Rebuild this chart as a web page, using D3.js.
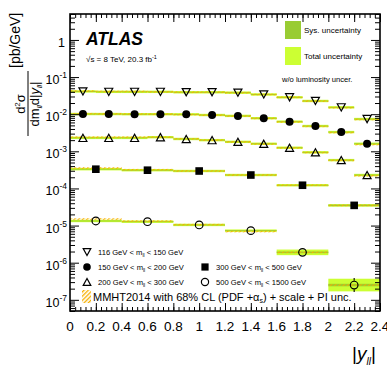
<!DOCTYPE html>
<html>
<head>
<meta charset="utf-8">
<script src="https://cdn.jsdelivr.net/npm/d3@7"></script>
<style>
  body { margin: 0; background: #fff; }
  svg { display: block; font-family: "Liberation Sans", Arial, sans-serif; }
</style>
</head>
<body>
<div id="chart"></div>
<script>
// bin edges in |y_ll|
const edgesFine = [0, 0.2, 0.4, 0.6, 0.8, 1.0, 1.2, 1.4, 1.6, 1.8, 2.0, 2.2, 2.4];
const edgesCoarse = [0, 0.4, 0.8, 1.2, 1.6, 2.0, 2.4];

const val116 = [0.041, 0.040, 0.040, 0.040, 0.039, 0.039, 0.038, 0.034, 0.0285, 0.0227, 0.0153, 0.0074];
const val150 = [0.0101, 0.0101, 0.0100, 0.0100, 0.0099, 0.0095, 0.0090, 0.0078, 0.0063, 0.0048, 0.0033, 0.0016];
const val200 = [0.0023, 0.0023, 0.0023, 0.0024, 0.00215, 0.0020, 0.0018, 0.0016, 0.00125, 0.00094, 0.00058, 0.00023];
const val300 = [3.3e-4, 3.1e-4, 2.95e-4, 2.3e-4, 1.22e-4, 3.5e-5];
const val500 = [1.33e-5, 1.27e-5, 1.04e-5, 7.3e-6, 1.9e-6, 2.5e-7];

// MMHT2014 prediction (central values)
const th116 = [0.042, 0.041, 0.041, 0.040, 0.039, 0.039, 0.038, 0.034, 0.0285, 0.0225, 0.0150, 0.0072];
const th150 = [0.0103, 0.0102, 0.0101, 0.0100, 0.0098, 0.0094, 0.0089, 0.0077, 0.0062, 0.0047, 0.0032, 0.00152];
const th200 = [0.0024, 0.0024, 0.0024, 0.0024, 0.00217, 0.0020, 0.0018, 0.00158, 0.00124, 0.00093, 0.00057, 0.00022];
const th300 = [3.55e-4, 3.2e-4, 2.95e-4, 2.3e-4, 1.22e-4, 3.5e-5];
const th500 = [1.5e-5, 1.32e-5, 1.06e-5, 6.9e-6, 1.9e-6, 2.5e-7];

// relative uncertainties
const tot116 = [0.01, 0.01, 0.01, 0.01, 0.01, 0.01, 0.01, 0.01, 0.012, 0.012, 0.015, 0.02];
const tot150 = [0.01, 0.01, 0.01, 0.01, 0.01, 0.01, 0.01, 0.012, 0.012, 0.015, 0.02, 0.03];
const tot200 = [0.012, 0.012, 0.012, 0.012, 0.012, 0.012, 0.015, 0.015, 0.02, 0.02, 0.03, 0.05];
const tot300 = [0.02, 0.02, 0.02, 0.03, 0.04, 0.08];
const tot500 = [0.04, 0.04, 0.05, 0.07, 0.19, 0.48];
const sys500 = [0.02, 0.02, 0.02, 0.03, 0.05, 0.08];
const stat500 = [0.03, 0.03, 0.04, 0.06, 0.17, 0.55];
const thRel = [0.035, 0.035, 0.035, 0.04, 0.04, 0.04];

const massLabels = ["116 GeV < m", "150 GeV < m", "200 GeV < m", "300 GeV < m", "500 GeV < m"];
const massUpper = [" < 150 GeV", " < 200 GeV", " < 300 GeV", " < 500 GeV", " < 1500 GeV"];

const series = [
    { id: "m116", edges: edgesFine, val: val116, th: th116, tot: tot116, marker: "triDown" },
    { id: "m150", edges: edgesFine, val: val150, th: th150, tot: tot150, marker: "dot" },
    { id: "m200", edges: edgesFine, val: val200, th: th200, tot: tot200, marker: "triUp" },
    { id: "m300", edges: edgesCoarse, val: val300, th: th300, tot: tot300, marker: "square" },
    { id: "m500", edges: edgesCoarse, val: val500, th: th500, tot: tot500, sys: sys500, stat: stat500, marker: "circle" }
];

const sysColor = "#99cc33";
const totColor = "#ccff33";

// frame
const frame = { left: 70, right: 380, top: 14, bottom: 311 };
const width = 387, height = 369;

const xScale = d3.scaleLinear().domain([0, 2.4]).range([frame.left, frame.right]);
const yScale = d3.scaleLog().domain([5e-8, 5]).range([frame.bottom, frame.top]);

const svg = d3.select("#chart").append("svg")
    .attr("width", width).attr("height", height);

// hatch pattern for the theory band
const defs = svg.append("defs");
const pat = defs.append("pattern").attr("id", "hatch")
    .attr("patternUnits", "userSpaceOnUse")
    .attr("width", 3).attr("height", 3)
    .attr("patternTransform", "rotate(45)");
pat.append("rect").attr("width", 1.3).attr("height", 3).attr("fill", "#f7b000");

defs.append("clipPath").attr("id", "plotClip").append("rect")
    .attr("x", frame.left).attr("y", frame.top)
    .attr("width", frame.right - frame.left).attr("height", frame.bottom - frame.top);

const gData = svg.append("g").attr("clip-path", "url(#plotClip)");

function band(v, rel, minH) {
    let y1 = yScale(v * (1 + rel)), y2 = yScale(v / (1 + rel));
    if (y2 - y1 < minH) {
        const c = yScale(v);
        y1 = c - minH / 2; y2 = c + minH / 2;
    }
    return [y1, y2];
}

// uncertainty bands
series.forEach(s => {
    s.val.forEach((v, i) => {
        const x0 = xScale(s.edges[i]), x1 = xScale(s.edges[i + 1]);
        const t = band(v, s.tot[i], 2.4);
        gData.append("rect").attr("x", x0).attr("width", x1 - x0)
            .attr("y", t[0]).attr("height", t[1] - t[0]).attr("fill", totColor);
        const sr = s.sys ? s.sys[i] : s.tot[i] * 0.6;
        const b = band(v, sr, 0.9);
        gData.append("rect").attr("x", x0).attr("width", x1 - x0)
            .attr("y", b[0]).attr("height", b[1] - b[0]).attr("fill", sysColor);
    });
});

// theory hatch
series.forEach(s => {
    s.th.forEach((v, i) => {
        const x0 = xScale(s.edges[i]), x1 = xScale(s.edges[i + 1]);
        const rel = s.edges === edgesCoarse ? thRel[i] : 0.02;
        const h = band(v, rel, 1.6);
        gData.append("rect").attr("x", x0).attr("width", x1 - x0)
            .attr("y", h[0]).attr("height", h[1] - h[0])
            .attr("fill", "url(#hatch)");
    });
});

// markers
function drawMarker(g, type, x, y, scale) {
    const k = scale || 1;
    if (type === "dot") {
        g.append("circle").attr("cx", x).attr("cy", y).attr("r", 4 * k).attr("fill", "#000");
    } else if (type === "circle") {
        g.append("circle").attr("cx", x).attr("cy", y).attr("r", 3.8 * k)
            .attr("fill", "none").attr("stroke", "#000").attr("stroke-width", 1.2);
    } else if (type === "square") {
        g.append("rect").attr("x", x - 3.8 * k).attr("y", y - 3.8 * k)
            .attr("width", 7.6 * k).attr("height", 7.6 * k).attr("fill", "#000");
    } else {
        const up = type === "triUp" ? 1 : -1;
        const hw = 4 * k, hh = 3.6 * k;
        const pts = [[x, y - up * hh], [x - hw, y + up * hh], [x + hw, y + up * hh]];
        g.append("path").attr("d", d3.line()(pts) + "Z")
            .attr("fill", "none").attr("stroke", "#000").attr("stroke-width", 1.2)
            .attr("stroke-linejoin", "miter");
    }
}

series.forEach(s => {
    s.val.forEach((v, i) => {
        const xc = xScale((s.edges[i] + s.edges[i + 1]) / 2);
        const yc = yScale(v);
        if (s.stat) {
            const yt = yScale(v * (1 + s.stat[i])), yb = yScale(v / (1 + s.stat[i]));
            if (yc - yt > 4.5) {
                gData.append("line").attr("x1", xc).attr("x2", xc).attr("y1", yt).attr("y2", yc - 4.2)
                    .attr("stroke", "#000").attr("stroke-width", 1.1);
                gData.append("line").attr("x1", xc).attr("x2", xc).attr("y1", yc + 4.2).attr("y2", yb)
                    .attr("stroke", "#000").attr("stroke-width", 1.1);
            }
        }
        drawMarker(gData, s.marker, xc, yc);
    });
});

// ticks (inward on all four sides)
const yMajor = d3.range(-7, 1).map(e => Math.pow(10, e));
const yMinor = [];
for (let e = -8; e <= 0; e++) {
    for (let k = 2; k <= 9; k++) {
        const v = k * Math.pow(10, e);
        if (v >= 5e-8 && v <= 5) yMinor.push(v);
    }
}
const xMajor = d3.range(0, 13).map(i => i * 0.2);
const xMinor = d3.range(0, 61).map(i => i * 0.04);

function tickAxis(axis, values, size, transform) {
    svg.append("g").attr("transform", transform)
        .call(axis.tickValues(values).tickSize(size).tickFormat(""))
        .call(g => g.select(".domain").remove())
        .selectAll("line").attr("stroke", "#000").attr("stroke-width", 1);
}
tickAxis(d3.axisRight(yScale), yMajor, 9, `translate(${frame.left},0)`);
tickAxis(d3.axisRight(yScale), yMinor, 5, `translate(${frame.left},0)`);
tickAxis(d3.axisLeft(yScale), yMajor, 9, `translate(${frame.right},0)`);
tickAxis(d3.axisLeft(yScale), yMinor, 5, `translate(${frame.right},0)`);
tickAxis(d3.axisTop(xScale), xMajor, 8, `translate(0,${frame.bottom})`);
tickAxis(d3.axisTop(xScale), xMinor, 4, `translate(0,${frame.bottom})`);
tickAxis(d3.axisBottom(xScale), xMajor, 8, `translate(0,${frame.top})`);
tickAxis(d3.axisBottom(xScale), xMinor, 4, `translate(0,${frame.top})`);

svg.append("rect").attr("x", frame.left).attr("y", frame.top)
    .attr("width", frame.right - frame.left).attr("height", frame.bottom - frame.top)
    .attr("fill", "none").attr("stroke", "#000").attr("stroke-width", 1.6);

// y tick labels
yMajor.forEach(v => {
    const e = Math.round(Math.log10(v));
    const t = svg.append("text").attr("x", e === 0 ? 65 : 67).attr("y", yScale(v) + 7)
        .attr("text-anchor", "end").attr("font-size", 12.5);
    if (e === 0) {
        t.text("1");
    } else {
        t.append("tspan").text("10");
        t.append("tspan").attr("dy", -6).attr("font-size", 8.5).text(String(e));
    }
});

// x tick labels
xMajor.forEach(v => {
    svg.append("text").attr("x", xScale(v)).attr("y", 330.5)
        .attr("text-anchor", "middle").attr("font-size", 13.5)
        .text(d3.format("~g")(+v.toFixed(1)));
});

// x title
const xt = svg.append("text").attr("x", 352).attr("y", 360).attr("font-size", 19);
xt.append("tspan").text("|");
xt.append("tspan").attr("font-style", "italic").text("y");
xt.append("tspan").attr("dy", 5).attr("font-size", 10).attr("font-style", "italic").text("ll");
xt.append("tspan").attr("dy", -5).text("|");

// y title (fraction)
const yt = svg.append("g").attr("transform", "translate(28,104) rotate(-90)");
const num = yt.append("text").attr("x", 0).attr("y", -3).attr("text-anchor", "middle").attr("font-size", 13);
num.append("tspan").text("d");
num.append("tspan").attr("dy", -5).attr("font-size", 8).text("2");
num.append("tspan").attr("dy", 5).text("σ");
yt.append("line").attr("x1", -32).attr("x2", 33).attr("y1", 0).attr("y2", 0)
    .attr("stroke", "#000").attr("stroke-width", 1);
const den = yt.append("text").attr("x", 0).attr("y", 11).attr("text-anchor", "middle").attr("font-size", 13);
den.append("tspan").text("dm");
den.append("tspan").attr("dy", 3).attr("font-size", 7).attr("font-style", "italic").text("ll");
den.append("tspan").attr("dy", -3).text("d|");
den.append("tspan").attr("font-style", "italic").text("y");
den.append("tspan").attr("dy", 3).attr("font-size", 7).attr("font-style", "italic").text("ll");
den.append("tspan").attr("dy", -3).text("|");
yt.append("text").attr("x", 36).attr("y", -8).attr("font-size", 14).text("[pb/GeV]");

// ATLAS label
svg.append("text").attr("x", 86).attr("y", 45).attr("font-size", 17.5)
    .attr("font-weight", "bold").attr("font-style", "italic").text("ATLAS");
const en = svg.append("text").attr("x", 86).attr("y", 62).attr("font-size", 8);
en.append("tspan").text("√s = 8 TeV, 20.3 fb");
en.append("tspan").attr("dy", -3).attr("font-size", 5.5).text("-1");

// uncertainty legend
svg.append("rect").attr("x", 285).attr("y", 21).attr("width", 16).attr("height", 18).attr("fill", sysColor);
svg.append("rect").attr("x", 285).attr("y", 47).attr("width", 16).attr("height", 18).attr("fill", totColor);
svg.append("text").attr("x", 304).attr("y", 33).attr("font-size", 8).text("Sys. uncertainty");
svg.append("text").attr("x", 304).attr("y", 59).attr("font-size", 8).text("Total uncertainty");
svg.append("text").attr("x", 282).attr("y", 82).attr("font-size", 7.6).text("w/o luminosity uncer.");

// mass legend
const legPos = [[87, 252], [87, 267], [87, 282], [205, 267], [205, 282]];
series.forEach((s, i) => {
    const [lx, ly] = legPos[i];
    drawMarker(svg, s.marker, lx, ly, 0.95);
    const t = svg.append("text").attr("x", lx + 11).attr("y", ly + 3).attr("font-size", 7.6);
    t.append("tspan").text(massLabels[i]);
    t.append("tspan").attr("dy", 2).attr("font-size", 5).text("ll");
    t.append("tspan").attr("dy", -2).text(massUpper[i]);
});
svg.append("rect").attr("x", 82).attr("y", 290).attr("width", 9).attr("height", 13).attr("fill", "url(#hatch)");
const mm = svg.append("text").attr("x", 93).attr("y", 301).attr("font-size", 11);
mm.append("tspan").text("MMHT2014 with 68% CL (PDF +α");
mm.append("tspan").attr("dy", 2).attr("font-size", 7).text("s");
mm.append("tspan").attr("dy", -2).text(") + scale + PI unc.");
</script>
</body>
</html>
